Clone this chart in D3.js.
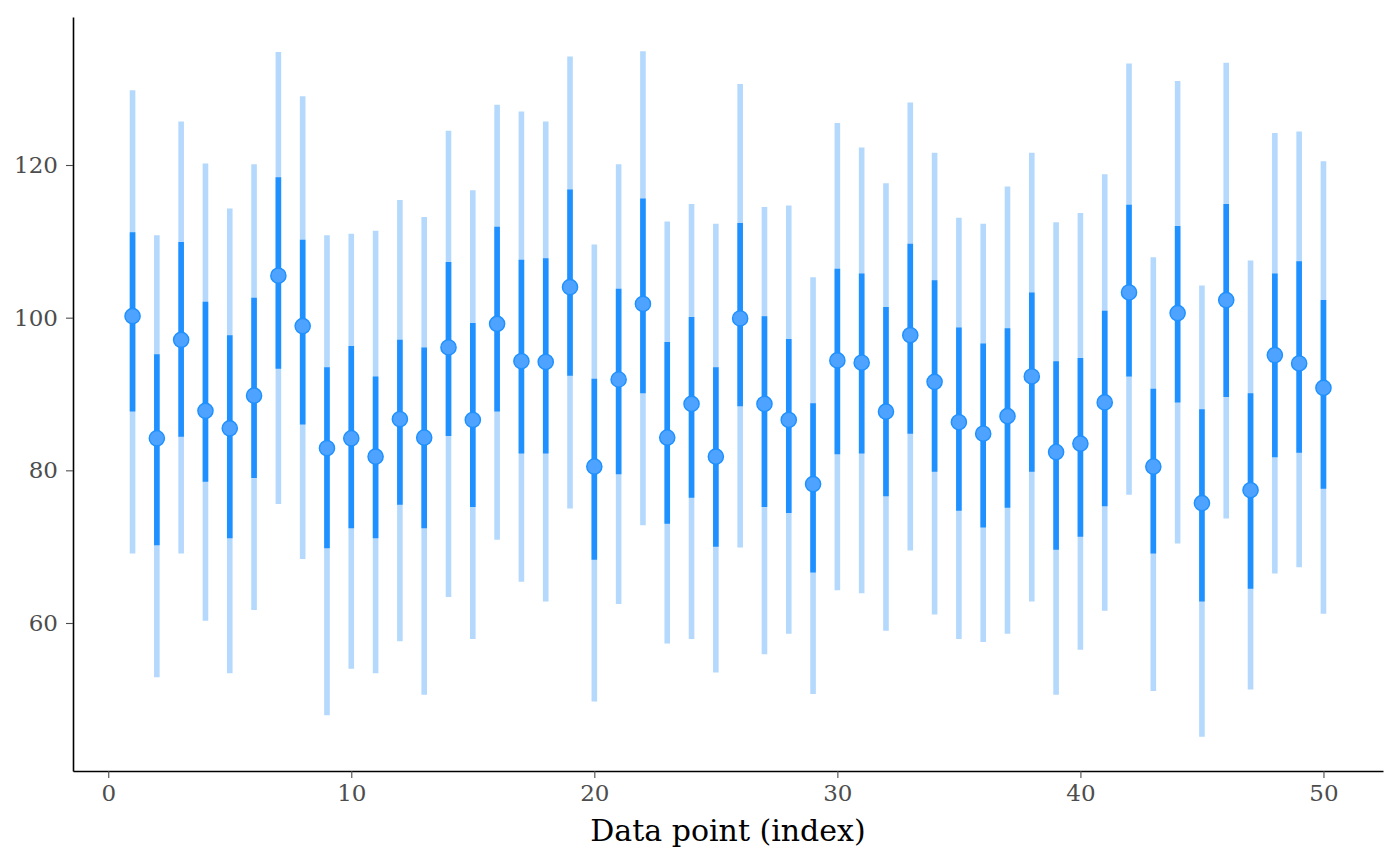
<!DOCTYPE html>
<html>
<head>
<meta charset="utf-8">
<script src="https://cdn.jsdelivr.net/npm/d3@7"></script>
<style>
  body { margin: 0; background: #fff; }
  svg { display: block; }
</style>
</head>
<body>
<div id="chart"></div>
<script>
// data point index
var idx = [1,2,3,4,5,6,7,8,9,10,11,12,13,14,15,16,17,18,19,20,21,22,23,24,25,
           26,27,28,29,30,31,32,33,34,35,36,37,38,39,40,41,42,43,44,45,46,47,48,49,50];

// point estimate
var mean = [100.2, 84.2, 97.1, 87.8, 85.5, 89.8, 105.5, 98.9, 82.9, 84.2,
            81.8, 86.7, 84.3, 96.1, 86.6, 99.2, 94.3, 94.2, 104.0, 80.5,
            91.9, 101.8, 84.3, 88.7, 81.8, 99.9, 88.7, 86.6, 78.2, 94.4,
            94.1, 87.7, 97.7, 91.6, 86.3, 84.8, 87.1, 92.3, 82.4, 83.5,
            88.9, 103.3, 80.5, 100.6, 75.7, 102.3, 77.4, 95.1, 94.0, 90.8];

// inner interval
var lo66 = [87.7, 70.2, 84.4, 78.5, 71.1, 79.0, 93.3, 86.0, 69.8, 72.4,
            71.1, 75.5, 72.4, 84.5, 75.2, 87.7, 82.2, 82.2, 92.4, 68.3,
            79.5, 90.1, 73.0, 76.4, 70.0, 88.4, 75.2, 74.4, 66.6, 82.1,
            82.2, 76.6, 84.8, 79.8, 74.7, 72.5, 75.1, 79.8, 69.6, 71.3,
            75.3, 92.3, 69.1, 88.9, 62.8, 89.6, 64.5, 81.7, 82.3, 77.6];
var hi66 = [111.2, 95.2, 109.9, 102.1, 97.7, 102.6, 118.4, 110.2, 93.5, 96.3,
            92.3, 97.1, 96.1, 107.3, 99.3, 111.9, 107.6, 107.8, 116.8, 92.0,
            103.8, 115.6, 96.8, 100.1, 93.5, 112.4, 100.2, 97.2, 88.8, 106.4,
            105.8, 101.4, 109.7, 104.9, 98.7, 96.6, 98.6, 103.3, 94.3, 94.7,
            100.9, 114.8, 90.7, 112.0, 88.0, 114.9, 90.1, 105.8, 107.4, 102.3];

// outer interval
var lo95 = [69.1, 52.9, 69.1, 60.3, 53.4, 61.7, 75.6, 68.4, 47.9, 54.0,
            53.4, 57.6, 50.6, 63.4, 57.9, 70.9, 65.4, 62.8, 75.0, 49.7,
            62.5, 72.8, 57.3, 57.9, 53.5, 69.9, 55.9, 58.6, 50.7, 64.3,
            63.9, 59.0, 69.5, 61.1, 57.9, 57.5, 58.6, 62.8, 50.6, 56.5,
            61.6, 76.8, 51.1, 70.4, 45.1, 73.7, 51.3, 66.5, 67.3, 61.2];
var hi95 = [129.8, 110.8, 125.7, 120.2, 114.3, 120.1, 134.8, 129.0, 110.8, 111.0,
            111.4, 115.4, 113.2, 124.5, 116.7, 127.9, 127.0, 125.7, 134.2, 109.6,
            120.1, 134.9, 112.6, 114.9, 112.3, 130.6, 114.5, 114.7, 105.3, 125.5,
            122.3, 117.6, 128.2, 121.6, 113.1, 112.3, 117.2, 121.6, 112.5, 113.7,
            118.8, 133.3, 107.9, 131.0, 104.2, 133.4, 107.5, 124.2, 124.4, 120.5];

var xTicks = [0, 10, 20, 30, 40, 50];
var yTicks = [60, 80, 100, 120];

var data = idx.map(function(d, i) {
  return {i: d, m: mean[i], l1: lo66[i], h1: hi66[i], l2: lo95[i], h2: hi95[i]};
});

// margins
var margin = {top: 17, right: 17, bottom: 95, left: 73},
    width = 1400 - margin.left - margin.right,
    height = 866 - margin.top - margin.bottom;

// 5% padding on both sides, like ggplot
function padded(ext) {
  var p = (ext[1] - ext[0]) * 0.05;
  return [ext[0] - p, ext[1] + p];
}

var x = d3.scaleLinear()
    .domain(padded(d3.extent(idx)))
    .range([0, width]);

var y = d3.scaleLinear()
    .domain(padded([d3.min(lo95), d3.max(hi95)]))
    .range([height, 0]);

var svg = d3.select("#chart").append("svg")
    .attr("width", width + margin.left + margin.right)
    .attr("height", height + margin.top + margin.bottom)
  .append("g")
    .attr("transform", "translate(" + margin.left + "," + margin.top + ")");

var blue = "#1e90ff";

// outer intervals
svg.selectAll(".outer")
    .data(data)
  .enter().append("line")
    .attr("class", "outer")
    .attr("x1", d => x(d.i)).attr("x2", d => x(d.i))
    .attr("y1", d => y(d.l2)).attr("y2", d => y(d.h2))
    .attr("stroke", "#b4d9fd")
    .attr("stroke-width", 5.6);

// inner intervals
svg.selectAll(".inner")
    .data(data)
  .enter().append("line")
    .attr("class", "inner")
    .attr("x1", d => x(d.i)).attr("x2", d => x(d.i))
    .attr("y1", d => y(d.l1)).attr("y2", d => y(d.h1))
    .attr("stroke", blue)
    .attr("stroke-width", 5.6);

// point estimates
svg.selectAll(".pt")
    .data(data)
  .enter().append("circle")
    .attr("class", "pt")
    .attr("cx", d => x(d.i))
    .attr("cy", d => y(d.m))
    .attr("r", 7.6)
    .attr("fill", "#4da3ff")
    .attr("stroke", blue)
    .attr("stroke-width", 1.4);

// axes
var font = "'DejaVu Serif', serif";

var xAxis = svg.append("g")
    .attr("transform", "translate(0," + height + ")")
    .call(d3.axisBottom(x).tickValues(xTicks).tickSize(7).tickPadding(7).tickSizeOuter(0));

var yAxis = svg.append("g")
    .call(d3.axisLeft(y).tickValues(yTicks).tickSize(7).tickPadding(8).tickSizeOuter(0));

[xAxis, yAxis].forEach(function(a) {
  a.select(".domain").attr("stroke", "#000").attr("stroke-width", 1.6);
  a.selectAll(".tick line").attr("stroke", "#4d4d4d").attr("stroke-width", 1.1);
  a.selectAll(".tick text")
    .attr("fill", "#4d4d4d")
    .style("font-family", font)
    .style("font-size", "23px");
});

// x axis title
svg.append("text")
    .attr("text-anchor", "middle")
    .attr("x", width / 2)
    .attr("y", height + 70)
    .style("font-family", font)
    .style("font-size", "30px")
    .attr("fill", "#000")
    .text("Data point (index)");
</script>
</body>
</html>
